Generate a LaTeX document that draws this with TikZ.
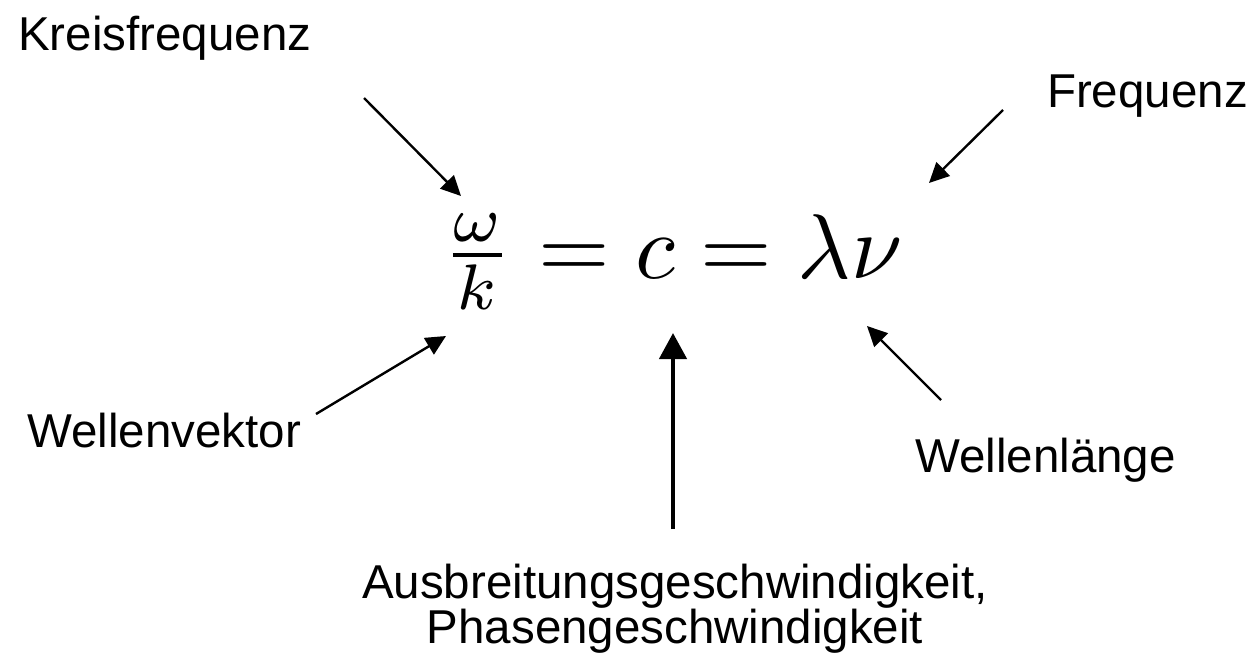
\documentclass[tikz,border=0pt]{standalone}
\usepackage{fontspec}
\setmainfont{Liberation Sans}
\usetikzlibrary{arrows.meta}
\begin{document}
\begin{tikzpicture}[x=1pt,y=-1pt]
    \tikzset{
      every node/.style={inner sep=0pt, font=\fontsize{47.5}{45}\selectfont},
      pfeil/.style={line width=2.4pt, -{Triangle[length=20pt,width=19pt]}},
      dickpfeil/.style={line width=4.5pt, -{Triangle[length=26pt,width=27pt]}}
    }
    \useasboundingbox (0,0) rectangle (1255,662);
    % Gleichung
    \node [anchor=base west, scale=9.2, font=\fontsize{10}{12}\selectfont] (eq) at (440,278) {$\frac{\omega}{k} = c = \lambda\nu$};
    % Beschriftungen
    \node [anchor=base west] (kreis) at (18,50) {Kreisfrequenz};
    \node [anchor=base east] (freq) at (1248,107) {Frequenz};
    \node [anchor=base west] (wvek) at (27,447) {Wellenvektor};
    \node [anchor=base west] (wlaenge) at (915,472) {Wellenlänge};
    \node [anchor=base, align=center] (ausbr) at (675,643) {Ausbreitungsgeschwindigkeit,\\Phasengeschwindigkeit};
    % Pfeile
    \coordinate (kreisA) at (364,98);   \coordinate (kreisB) at (461,196);
    \coordinate (freqA) at (1003,110);  \coordinate (freqB) at (929,183);
    \coordinate (wvekA) at (316,414);   \coordinate (wvekB) at (446,336);
    \coordinate (wlA) at (941,400);     \coordinate (wlB) at (867,326);
    \coordinate (ausbrA) at (673,529);  \coordinate (ausbrB) at (673,333);
    \draw [pfeil] (kreisA) -- (kreisB);
    \draw [pfeil] (freqA) -- (freqB);
    \draw [pfeil] (wvekA) -- (wvekB);
    \draw [pfeil] (wlA) -- (wlB);
    \draw [dickpfeil] (ausbrA) -- (ausbrB);
\end{tikzpicture}
\end{document}
